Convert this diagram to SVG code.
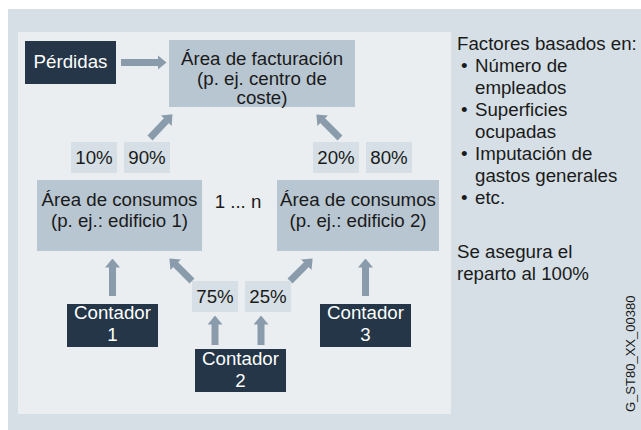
<svg xmlns="http://www.w3.org/2000/svg" width="641" height="430" viewBox="0 0 641 430">
<style>
text{font-family:"Liberation Sans",Arial,sans-serif;font-size:18.7px;fill:#1a1a1a}
.c{text-anchor:middle}
.w{fill:#ffffff}
.dark{fill:#243647}
.box{fill:#b8c6d1}
.pct{fill:#d5dfe5}
.arr{stroke:#8a9cab;stroke-width:7;fill:none;marker-end:url(#ah)}
</style>
<defs>
<marker id="ah" markerUnits="userSpaceOnUse" viewBox="0 0 9 15" markerWidth="9" markerHeight="15" refX="0.5" refY="7.5" orient="auto">
<path d="M0,0 L9,7.5 L0,15 Z" fill="#8a9cab"/>
</marker>
</defs>
<rect x="0" y="0" width="641" height="430" fill="#ffffff"/>
<rect x="8" y="9" width="633" height="421" fill="#d5dfe5"/>
<rect x="18" y="32" width="433" height="382" fill="#eaeef1"/>

<g id="connectors">
<line class="arr" x1="121" y1="62.5" x2="158" y2="62.5"/>
<line class="arr" x1="150" y1="138" x2="166.6" y2="120.4"/>
<line class="arr" x1="340" y1="138" x2="322.4" y2="120.4"/>
<line class="arr" x1="112.5" y1="296" x2="112.5" y2="267"/>
<line class="arr" x1="192" y1="281" x2="175.4" y2="264.4"/>
<line class="arr" x1="290" y1="281" x2="306.6" y2="264.4"/>
<line class="arr" x1="215" y1="345" x2="215" y2="324"/>
<line class="arr" x1="261" y1="345" x2="261" y2="324"/>
<line class="arr" x1="365.5" y1="296" x2="365.5" y2="267"/>
</g>

<g id="perdidas">
<rect class="dark" x="25" y="41" width="91" height="43"/>
<text class="c w" x="70.5" y="68">Pérdidas</text>
</g>

<g id="area-facturacion">
<rect class="box" x="169" y="40" width="186" height="67"/>
<text class="c" x="262" y="65">Área de facturación</text>
<text class="c" x="262" y="84.5">(p. ej. centro de</text>
<text class="c" x="262" y="104">coste)</text>
</g>

<g id="pct10"><rect class="pct" x="71" y="142" width="46" height="31"/><text class="c" x="94" y="164">10%</text></g>
<g id="pct90"><rect class="pct" x="124" y="142" width="46" height="31"/><text class="c" x="147" y="164">90%</text></g>
<g id="pct20"><rect class="pct" x="313" y="142" width="46" height="31"/><text class="c" x="336" y="164">20%</text></g>
<g id="pct80"><rect class="pct" x="366" y="142" width="46" height="31"/><text class="c" x="389" y="164">80%</text></g>

<g id="area-consumos-1">
<rect class="box" x="37" y="180" width="165" height="71"/>
<text class="c" x="119.5" y="206">Área de consumos</text>
<text class="c" x="119.5" y="227">(p. ej.: edificio 1)</text>
</g>

<g id="one-n"><text class="c" x="238" y="208">1 ... n</text></g>

<g id="area-consumos-2">
<rect class="box" x="277" y="180" width="162" height="71"/>
<text class="c" x="358" y="206">Área de consumos</text>
<text class="c" x="358" y="227">(p. ej.: edificio 2)</text>
</g>

<g id="pct75"><rect class="pct" x="192" y="281" width="46" height="31"/><text class="c" x="215" y="303">75%</text></g>
<g id="pct25"><rect class="pct" x="245" y="281" width="46" height="31"/><text class="c" x="268" y="303">25%</text></g>

<g id="contador-1">
<rect class="dark" x="67" y="304" width="91" height="43"/>
<text class="c w" x="112.5" y="319">Contador</text>
<text class="c w" x="112.5" y="341">1</text>
</g>

<g id="contador-2">
<rect class="dark" x="195" y="349" width="91" height="43"/>
<text class="c w" x="240.5" y="365">Contador</text>
<text class="c w" x="240.5" y="387">2</text>
</g>

<g id="contador-3">
<rect class="dark" x="320" y="304" width="91" height="43"/>
<text class="c w" x="365.5" y="319">Contador</text>
<text class="c w" x="365.5" y="341">3</text>
</g>

<g id="notes">
<text x="457" y="50">Factores basados en:</text>
<text x="461" y="72">•</text><text x="475" y="72">Número de</text>
<text x="475" y="94">empleados</text>
<text x="461" y="116">•</text><text x="475" y="116">Superficies</text>
<text x="475" y="138">ocupadas</text>
<text x="461" y="160">•</text><text x="475" y="160">Imputación de</text>
<text x="475" y="182">gastos generales</text>
<text x="461" y="204">•</text><text x="475" y="204">etc.</text>
<text x="457" y="257.5">Se asegura el</text>
<text x="457" y="279.5">reparto al 100%</text>
</g>

<g id="code">
<text x="635" y="412" transform="rotate(-90 635 412)" style="font-size:13px">G_ST80_XX_00380</text>
</g>
</svg>
